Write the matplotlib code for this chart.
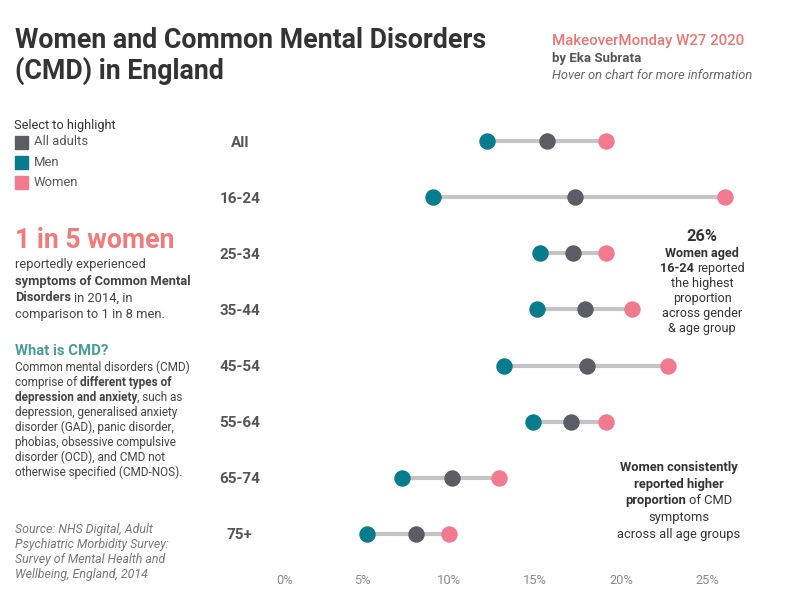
import matplotlib

matplotlib.use("Agg")
import matplotlib.pyplot as plt
from matplotlib.patches import Rectangle

plt.rcParams["font.family"] = ["Roboto", "DejaVu Sans"]

# data (percent of adults with CMD symptoms, APMS 2014)
groups = ["All", "16-24", "25-34", "35-44", "45-54", "55-64", "65-74", "75+"]
men = [12.2, 9.1, 15.3, 15.1, 13.2, 14.9, 7.3, 5.3]
all_adults = [15.7, 17.3, 17.2, 17.9, 18.0, 17.1, 10.2, 8.1]
women = [19.1, 26.0, 19.1, 20.6, 22.7, 19.1, 12.9, 10.0]
x_ticks = [0, 5, 10, 15, 20, 25]

C_MEN = "#087b8c"
C_ALL = "#5a5d66"
C_WOMEN = "#f27a8f"
C_LINE = "#c4c4c4"
C_DARK = "#333333"
C_TEXT = "#444444"

W, H = 799, 599
fig = plt.figure(figsize=(W / 100, H / 100), dpi=100)
renderer = fig.canvas.get_renderer()


def fx(x):
    return x / W


def fy(y):
    return 1 - y / H


def rich(x, y, segs, size, ha="left", color=C_TEXT, style="normal"):
    """One line of text made of (text, weight) pieces, y is the baseline in px from top."""
    arts = []
    for s, w in segs:
        arts.append(fig.text(0, 0, s, fontsize=size, fontweight=w, color=color,
                             fontstyle=style, va="baseline", ha="left"))
    probe_a = fig.text(0, 0, "xx", fontsize=size)
    probe_b = fig.text(0, 0, "x x", fontsize=size)
    space = probe_b.get_window_extent(renderer).width - probe_a.get_window_extent(renderer).width
    probe_a.remove()
    probe_b.remove()
    widths = [a.get_window_extent(renderer).width for a in arts]
    total = sum(widths) + space * (len(arts) - 1)
    start = x - total / 2 if ha == "center" else x
    for a, w in zip(arts, widths):
        a.set_position((fx(start), fy(y)))
        start += w + space


# ---- chart ----
ax_left, ax_right, ax_top, ax_bot = 262, 775, 113, 562
ax = fig.add_axes([fx(ax_left), fy(ax_bot), (ax_right - ax_left) / W, (ax_bot - ax_top) / H])
ypos = list(range(len(groups)))
for i in ypos:
    ax.plot([men[i], women[i]], [i, i], color=C_LINE, lw=3, solid_capstyle="butt", zorder=1)
ax.scatter(men, ypos, s=140, color=C_MEN, zorder=3, linewidths=0)
ax.scatter(all_adults, ypos, s=140, color=C_ALL, zorder=3, linewidths=0)
ax.scatter(women, ypos, s=140, color=C_WOMEN, zorder=3, linewidths=0)

ax.set_xlim(-0.8, 28.9)
ax.set_ylim(len(groups) - 0.5, -0.5)
ax.set_xticks(x_ticks)
ax.set_xticklabels([f"{t}%" for t in x_ticks])
ax.set_yticks(ypos)
ax.set_yticklabels(groups)
ax.tick_params(axis="x", length=0, pad=9, labelsize=9.3, labelcolor="#8a8a8a")
ax.tick_params(axis="y", length=0, pad=16, labelsize=11, labelcolor="#555555")
for lab in ax.get_yticklabels():
    lab.set_fontweight("bold")
    lab.set_horizontalalignment("center")
ax.get_xticklabels()[0].set_horizontalalignment("left")
for sp in ax.spines.values():
    sp.set_visible(False)

# ---- header ----
fig.text(fx(15), fy(48), "Women and Common Mental Disorders", fontsize=19.3, fontweight="bold",
         color=C_DARK, va="baseline")
fig.text(fx(15), fy(79), "(CMD) in England", fontsize=19.3, fontweight="bold",
         color=C_DARK, va="baseline")
fig.text(fx(552), fy(45), "MakeoverMonday W27 2020", fontsize=10.8, fontweight="medium",
         color="#f07373", va="baseline")
fig.text(fx(552), fy(62), "by Eka Subrata", fontsize=9.5, fontweight="bold",
         color="#555555", va="baseline")
fig.text(fx(552), fy(79), "Hover on chart for more information", fontsize=9.3, fontstyle="italic",
         color="#666666", va="baseline")

# ---- legend ----
fig.text(fx(14), fy(129), "Select to highlight", fontsize=9.2, color=C_DARK, va="baseline")
for k, (lab, col) in enumerate([("All adults", C_ALL), ("Men", C_MEN), ("Women", C_WOMEN)]):
    yc = 142 + 20 * k
    fig.patches.append(Rectangle((fx(15), fy(yc + 7)), 13 / W, 13 / H, color=col,
                                 transform=fig.transFigure, figure=fig))
    fig.text(fx(34), fy(yc), lab, fontsize=9.4, color="#555555", va="center")

# ---- left story ----
fig.text(fx(15), fy(248), "1 in 5 women", fontsize=19.2, fontweight="bold", color="#f07b7b",
         va="baseline")
story = [
    [("reportedly experienced", "normal")],
    [("symptoms of Common Mental", "bold")],
    [("Disorders", "bold"), ("in 2014, in", "normal")],
    [("comparison to 1 in 8 men.", "normal")],
]
for k, segs in enumerate(story):
    rich(15, 268 + 16.7 * k, segs, 9.3)

fig.text(fx(15), fy(355), "What is CMD?", fontsize=10.7, fontweight="bold", color="#4a9c98",
         va="baseline")
cmd = [
    [("Common mental disorders (CMD)", "normal")],
    [("comprise of", "normal"), ("different types of", "bold")],
    [("depression and anxiety", "bold"), (", such as", "normal")],
    [("depression, generalised anxiety", "normal")],
    [("disorder (GAD), panic disorder,", "normal")],
    [("phobias, obsessive compulsive", "normal")],
    [("disorder (OCD), and CMD not", "normal")],
    [("otherwise specified (CMD-NOS).", "normal")],
]
for k, segs in enumerate(cmd):
    if len(segs) == 2 and segs[1][0].startswith(","):
        # comma hugs the bold phrase, no space before it
        first = fig.text(fx(15), fy(371 + 15 * k), segs[0][0], fontsize=8.5, fontweight="bold",
                         color=C_TEXT, va="baseline")
        wpx = first.get_window_extent(renderer).width
        fig.text(fx(15 + wpx), fy(371 + 15 * k), segs[1][0], fontsize=8.5, color=C_TEXT,
                 va="baseline")
    else:
        rich(15, 371 + 15 * k, segs, 8.5)

source = ["Source: NHS Digital, Adult", "Psychiatric Morbidity Survey:",
          "Survey of Mental Health and", "Wellbeing, England, 2014"]
for k, line in enumerate(source):
    fig.text(fx(15), fy(533 + 15 * k), line, fontsize=8.9, fontstyle="italic", color="#777777",
             va="baseline")

# ---- right notes ----
fig.text(fx(702), fy(241), "26%", fontsize=11.8, fontweight="bold", color=C_DARK, ha="center",
         va="baseline")
note1 = [
    [("Women aged", "bold")],
    [("16-24", "bold"), ("reported", "normal")],
    [("the highest", "normal")],
    [("proportion", "normal")],
    [("across gender", "normal")],
    [("& age group", "normal")],
]
for k, segs in enumerate(note1):
    rich(702, 257 + 15 * k, segs, 9.1, ha="center", color=C_DARK)

note2 = [
    [("Women consistently", "bold")],
    [("reported higher", "bold")],
    [("proportion", "bold"), ("of CMD", "normal")],
    [("symptoms", "normal")],
    [("across all age groups", "normal")],
]
for k, segs in enumerate(note2):
    rich(679, 471 + 16.7 * k, segs, 9.25, ha="center", color=C_DARK)

fig.savefig("out.png", dpi=100)
